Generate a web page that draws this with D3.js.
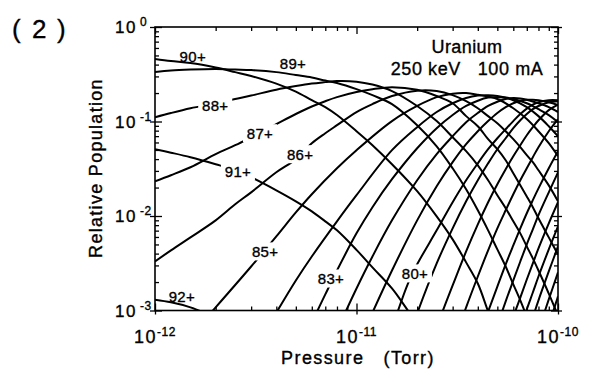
<!DOCTYPE html>
<html>
<head>
<meta charset="utf-8">
<script src="https://cdn.jsdelivr.net/npm/d3@7"></script>
<style>
  html, body { margin: 0; padding: 0; background: #fff; }
  svg { display: block; font-family: "Liberation Sans", Arial, Helvetica, sans-serif; }
  svg text { fill: #000; stroke: #000; stroke-width: 0.35px; }
</style>
</head>
<body>
<svg id="chart" width="595" height="370"></svg>
<script>
// Charge-state populations of uranium vs residual gas pressure (250 keV, 100 mA)
// Each series: [pressure (Torr), relative population]
const u92 = [[1e-12,1.3e-3],[1.2e-12,1.22e-3],[1.5e-12,1.08e-3],[2e-12,8.5e-4]];
const u91 = [[1e-12,0.0509],[1.2e-12,0.0468],[1.5e-12,0.0419],[2e-12,0.0353],[2.5e-12,0.0305],[3e-12,0.0257],[4e-12,0.0187],[5e-12,0.0143],[6e-12,0.0112],[7e-12,0.00878],[8e-12,0.00705],[1e-11,0.00438],[1.2e-11,0.00286],[1.5e-11,0.00171],[1.8e-11,0.001],[2e-11,7.46e-4]];
const u90 = [[1e-12,0.458],[1.2e-12,0.436],[1.5e-12,0.415],[2e-12,0.372],[2.5e-12,0.333],[3e-12,0.303],[4e-12,0.252],[5e-12,0.207],[6e-12,0.168],[7e-12,0.142],[8e-12,0.117],[1e-11,0.0789],[1.2e-11,0.0561],[1.5e-11,0.0353],[2e-11,0.0183],[2.5e-11,0.0099],[3e-11,0.00566],[3.5e-11,0.00323],[4e-11,0.00193],[4.5e-11,9.75e-4],[5e-11,5.4e-4]];
const u89 = [[1e-12,0.333],[1.2e-12,0.346],[1.5e-12,0.354],[2e-12,0.359],[2.5e-12,0.354],[3e-12,0.350],[4e-12,0.333],[5e-12,0.310],[6e-12,0.292],[7e-12,0.271],[8e-12,0.255],[1e-11,0.220],[1.2e-11,0.190],[1.5e-11,0.153],[2e-11,0.0914],[2.5e-11,0.0547],[3e-11,0.0320],[3.5e-11,0.0192],[4e-11,0.0115],[4.5e-11,0.00705],[5e-11,0.00443],[5.5e-11,0.00292],[6e-11,0.00189],[6.5e-11,0.00128],[7e-11,8.6e-4]];
const u88 = [[1e-12,0.111],[1.2e-12,0.123],[1.5e-12,0.138],[2e-12,0.156],[2.5e-12,0.173],[3e-12,0.188],[4e-12,0.217],[5e-12,0.237],[6e-12,0.252],[7e-12,0.261],[8e-12,0.268],[1e-11,0.264],[1.2e-11,0.246],[1.5e-11,0.210],[2e-11,0.146],[2.5e-11,0.101],[3e-11,0.0682],[3.5e-11,0.0485],[4e-11,0.0344],[4.5e-11,0.0239],[5e-11,0.0166],[5.5e-11,0.0121],[6e-11,0.00878],[6.5e-11,0.00655],[7e-11,0.00477],[7.5e-11,0.00356],[8e-11,0.00265],[9e-11,0.00151],[1e-10,8.85e-4]];
const u87 = [[1e-12,0.0233],[1.2e-12,0.0270],[1.5e-12,0.0328],[2e-12,0.0451],[2.5e-12,0.0561],[3e-12,0.0682],[4e-12,0.0938],[5e-12,0.120],[6e-12,0.144],[7e-12,0.164],[8e-12,0.181],[1e-11,0.205],[1.2e-11,0.220],[1.5e-11,0.231],[2e-11,0.217],[2.5e-11,0.186],[3e-11,0.156],[3.5e-11,0.114],[4e-11,0.0891],[4.5e-11,0.0650],[5e-11,0.0509],[5.5e-11,0.0389],[6e-11,0.0283],[6.5e-11,0.0211],[7e-11,0.0161],[7.5e-11,0.0124],[8e-11,0.00945],[9e-11,0.00594],[1e-10,0.00392]];
const u86 = [[1e-12,0.00330],[1.2e-12,0.00433],[1.5e-12,0.00594],[2e-12,0.00899],[2.5e-12,0.0133],[3e-12,0.0178],[4e-12,0.0290],[5e-12,0.0399],[6e-12,0.0589],[7e-12,0.0752],[8e-12,0.0914],[1e-11,0.126],[1.2e-11,0.153],[1.5e-11,0.186],[2e-11,0.212],[2.5e-11,0.210],[3e-11,0.190],[3.5e-11,0.164],[4e-11,0.138],[4.5e-11,0.114],[5e-11,0.0960],[5.5e-11,0.0789],[6e-11,0.0650],[6.5e-11,0.0535],[7e-11,0.0440],[7.5e-11,0.0371],[8e-11,0.0305],[9e-11,0.0211],[1e-10,0.0143]];
const u85 = [[1.5e-12,5.4e-4],[2e-12,1.08e-3],[3e-12,2.92e-3],[4e-12,6.08e-3],[5e-12,0.0109],[6e-12,0.0170],[8e-12,0.0320],[1e-11,0.0497],[1.5e-11,0.101],[2e-11,0.146],[2.5e-11,0.181],[3e-11,0.197],[3.5e-11,0.200],[4e-11,0.192],[5e-11,0.173],[6e-11,0.138],[7e-11,0.106],[8e-11,0.0789],[9e-11,0.0589],[1e-10,0.0429]];
const u84 = [[3e-12,3.33e-4],[4e-12,9.5e-4],[5e-12,2.08e-3],[6e-12,3.73e-3],[8e-12,8.78e-3],[1e-11,0.0166],[1.5e-11,0.0497],[2e-11,0.0871],[2.5e-11,0.126],[3e-11,0.156],[3.5e-11,0.177],[4e-11,0.188],[4.5e-11,0.190],[5e-11,0.186],[6e-11,0.168],[7e-11,0.142],[8e-11,0.114],[9e-11,0.0891],[1e-10,0.0698]];
const u83 = [[6e-12,7.46e-4],[7e-12,1.48e-3],[8e-12,2.65e-3],[1e-11,6.55e-3],[1.2e-11,0.0124],[1.5e-11,0.0245],[2e-11,0.0521],[2.5e-11,0.0850],[3e-11,0.117],[3.5e-11,0.146],[4e-11,0.166],[4.5e-11,0.179],[5e-11,0.181],[5.5e-11,0.179],[6e-11,0.173],[7e-11,0.156],[8e-11,0.135],[9e-11,0.117],[1e-10,0.0984]];
const u82 = [[8e-12,6.14e-4],[1e-11,1.71e-3],[1.2e-11,3.73e-3],[1.5e-11,8.99e-3],[2e-11,0.0239],[2.5e-11,0.0451],[3e-11,0.0698],[3.5e-11,0.0984],[4e-11,0.123],[4.5e-11,0.146],[5e-11,0.162],[5.5e-11,0.173],[6e-11,0.177],[6.5e-11,0.175],[7e-11,0.170],[8e-11,0.156],[9e-11,0.142],[1e-10,0.126]];
const u81 = [[1.2e-11,9.5e-4],[1.5e-11,2.65e-3],[2e-11,8.99e-3],[2.5e-11,0.0206],[3e-11,0.0371],[3.5e-11,0.0575],[4e-11,0.0789],[4.5e-11,0.101],[5e-11,0.123],[5.5e-11,0.142],[6e-11,0.156],[6.5e-11,0.166],[7e-11,0.170],[7.5e-11,0.170],[8e-11,0.168],[9e-11,0.160],[1e-10,0.149]];
const u80 = [[1.5e-11,6.44e-4],[1.8e-11,1.93e-3],[2e-11,3.08e-3],[2.5e-11,7.05e-3],[3e-11,0.0140],[3.5e-11,0.0239],[4e-11,0.0361],[4.5e-11,0.0509],[5e-11,0.0665],[5.5e-11,0.0829],[6e-11,0.101],[6.5e-11,0.120],[7e-11,0.137],[7.5e-11,0.151],[8e-11,0.160],[9e-11,0.168],[1e-10,0.168]];
const u79 = [[1.8e-11,4.81e-4],[2e-11,9.3e-4],[2.5e-11,3.15e-3],[3e-11,7.40e-3],[3.5e-11,0.0143],[4e-11,0.0239],[4.5e-11,0.0361],[5e-11,0.0509],[5.5e-11,0.0665],[6e-11,0.0850],[6.5e-11,0.103],[7e-11,0.120],[7.5e-11,0.135],[8e-11,0.146],[9e-11,0.160],[1e-10,0.164]];
const u78 = [[2.5e-11,6.76e-4],[3e-11,1.84e-3],[3.5e-11,4.22e-3],[4e-11,8.17e-3],[4.5e-11,0.0140],[5e-11,0.0217],[5.5e-11,0.0313],[6e-11,0.0429],[6.5e-11,0.0561],[7e-11,0.0716],[7.5e-11,0.0871],[8e-11,0.103],[9e-11,0.132],[1e-10,0.151]];
const u77 = [[3e-11,4.26e-4],[3.5e-11,1.08e-3],[4e-11,2.29e-3],[4.5e-11,4.33e-3],[5e-11,7.40e-3],[5.5e-11,0.0115],[6e-11,0.0170],[6.5e-11,0.0239],[7e-11,0.0320],[7.5e-11,0.0419],[8e-11,0.0535],[9e-11,0.0789],[1e-10,0.106]];
const u76 = [[4e-11,4.81e-4],[4.5e-11,9.75e-4],[5e-11,1.79e-3],[5.5e-11,3.08e-3],[6e-11,4.89e-3],[6.5e-11,7.40e-3],[7e-11,0.0107],[7.5e-11,0.0147],[8e-11,0.0196],[9e-11,0.0320],[1e-10,0.0485]];
const u75 = [[5e-11,6.93e-4],[5.5e-11,1.25e-3],[6e-11,2.08e-3],[6.5e-11,3.30e-3],[7e-11,5.01e-3],[7.5e-11,7.22e-3],[8e-11,0.0102],[9e-11,0.0178],[1e-10,0.0290]];
const u74 = [[6e-11,8.63e-4],[6.5e-11,1.37e-3],[7e-11,2.13e-3],[7.5e-11,3.15e-3],[8e-11,4.54e-3],[9e-11,8.36e-3],[1e-10,0.0140]];
const u73 = [[6.5e-11,6.44e-4],[7e-11,1.03e-3],[7.5e-11,1.55e-3],[8e-11,2.29e-3],[9e-11,4.43e-3],[1e-10,7.76e-3]];
const u72 = [[7.5e-11,8.43e-4],[8e-11,1.28e-3],[9e-11,2.59e-3],[1e-10,4.77e-3]];
const u71 = [[8e-11,6.14e-4],[9e-11,1.31e-3],[1e-10,2.53e-3]];
const u70 = [[9e-11,6.93e-4],[1e-10,1.41e-3]];

const chargeSeries = [u92,u91,u90,u89,u88,u87,u86,u85,u84,u83,u82,u81,u80,u79,u78,u77,u76,u75,u74,u73,u72,u71,u70];

// Curve labels: text and the [pressure, population] where each sits
const labelTexts = ["90+","89+","88+","87+","86+","91+","85+","92+","83+","80+"];
const labelAt = [[1.54e-12,0.493],[4.84e-12,0.415],[1.99e-12,0.149],[3.32e-12,0.0752],[5.25e-12,0.0451],[2.58e-12,0.0297],[3.52e-12,4.22e-3],[1.36e-12,1.41e-3],[7.47e-12,2.18e-3],[1.95e-11,2.47e-3]];
// labels that sit on their own curve (curve is broken around them)
const labelBreaks = [false,false,true,true,true,true,true,false,true,true];

const xDecades = [1e-12,1e-11,1e-10];
const xExponents = ["-12","-11","-10"];
const yDecades = [1,0.1,0.01,0.001];
const yExponents = ["0","-1","-2","-3"];

const svg = d3.select("#chart");
const L = 155, R = 558, T = 27, B = 310.5;
const x = d3.scaleLog().domain([1e-12,1e-10]).range([L,R]);
const y = d3.scaleLog().domain([1e-3,1]).range([B,T]);

svg.append("rect").attr("width",595).attr("height",370).attr("fill","#fff");

svg.append("defs").append("clipPath").attr("id","plotclip")
  .append("rect").attr("x",L).attr("y",T).attr("width",R-L).attr("height",B-T);

const line = d3.line()
  .x(d => x(d[0])).y(d => y(d[1]))
  .curve(d3.curveCatmullRom.alpha(0.5));

svg.append("g").attr("clip-path","url(#plotclip)")
  .selectAll("path").data(chargeSeries).join("path")
  .attr("d", line)
  .attr("fill","none").attr("stroke","#000").attr("stroke-width",2)
  .attr("stroke-linejoin","round");

// axes: minor ticks inward, decade ticks crossing the frame
const minorX = x.ticks().filter(v => !xDecades.some(d => Math.abs(v/d-1) < 1e-6));
const minorY = y.ticks().filter(v => !yDecades.some(d => Math.abs(v/d-1) < 1e-6));

function drawAxis(axisFn, scale, tx, ty, values, size) {
  const g = svg.append("g").attr("transform",`translate(${tx},${ty})`)
    .call(axisFn(scale).tickValues(values).tickSize(size).tickFormat(""));
  g.select(".domain").remove();
  g.selectAll("line").attr("stroke","#000").attr("stroke-width",1.3);
  return g;
}
drawAxis(d3.axisBottom, x, 0, B, minorX, -4);
drawAxis(d3.axisBottom, x, 0, B, xDecades, -7);
drawAxis(d3.axisBottom, x, 0, B, xDecades, 4);
drawAxis(d3.axisTop, x, 0, T, minorX, -4);
drawAxis(d3.axisTop, x, 0, T, xDecades, -7);
drawAxis(d3.axisLeft, y, L, 0, minorY, -4);
drawAxis(d3.axisLeft, y, L, 0, yDecades, -7);
drawAxis(d3.axisLeft, y, L, 0, yDecades, 5);
drawAxis(d3.axisRight, y, R, 0, minorY, -4);
drawAxis(d3.axisRight, y, R, 0, yDecades, -7);
drawAxis(d3.axisRight, y, R, 0, yDecades, 4);

svg.append("rect").attr("x",L).attr("y",T).attr("width",R-L).attr("height",B-T)
  .attr("fill","none").attr("stroke","#000").attr("stroke-width",1.6);

// decade tick labels with superscript exponents
xDecades.forEach((v,i) => {
  const t = svg.append("text").attr("x", x(v)).attr("y", 343)
    .attr("text-anchor","middle").attr("font-size",18).attr("letter-spacing",1.5);
  t.append("tspan").text("10");
  t.append("tspan").attr("dy",-7).attr("font-size",12).attr("letter-spacing",0.5).text(xExponents[i]);
});
yDecades.forEach((v,i) => {
  svg.append("text").attr("x", 137).attr("y", y(v)+6)
    .attr("text-anchor","end").attr("font-size",17).attr("letter-spacing",1.5).text("10");
  svg.append("text").attr("x",140).attr("y", y(v)-1).attr("font-size",12)
    .attr("letter-spacing",0.5).text(yExponents[i]);
});

// axis titles
svg.append("text").attr("x",358).attr("y",364).attr("text-anchor","middle")
  .attr("font-size",18).attr("letter-spacing",1.4).style("white-space","pre")
  .text("Pressure   (Torr)");
svg.append("text").attr("transform","translate(102,168) rotate(-90)")
  .attr("text-anchor","middle").attr("font-size",18).attr("letter-spacing",1.3)
  .text("Relative Population");

// panel tag
svg.append("text").attr("x",12).attr("y",38).attr("font-size",26).text("(");
svg.append("text").attr("x",32).attr("y",38).attr("font-size",26).text("2");
svg.append("text").attr("x",57).attr("y",38).attr("font-size",26).text(")");

// beam annotation
svg.append("text").attr("x",467).attr("y",53).attr("text-anchor","middle")
  .attr("font-size",18).attr("letter-spacing",0.4).text("Uranium");
svg.append("text").attr("x",467).attr("y",75).attr("text-anchor","middle")
  .attr("font-size",18).attr("letter-spacing",0.6).style("white-space","pre")
  .text("250 keV   100 mA");

// charge-state labels
const lab = svg.append("g");
labelTexts.forEach((s,i) => {
  const cx = x(labelAt[i][0]), cy = y(labelAt[i][1]);
  if (labelBreaks[i]) {
    lab.append("rect").attr("x",cx-17).attr("y",cy-9).attr("width",34).attr("height",18).attr("fill","#fff");
  }
  lab.append("text").attr("x",cx).attr("y",cy+5.5).attr("text-anchor","middle")
    .attr("font-size",15).attr("letter-spacing",0.3).text(s);
});
</script>
</body>
</html>
